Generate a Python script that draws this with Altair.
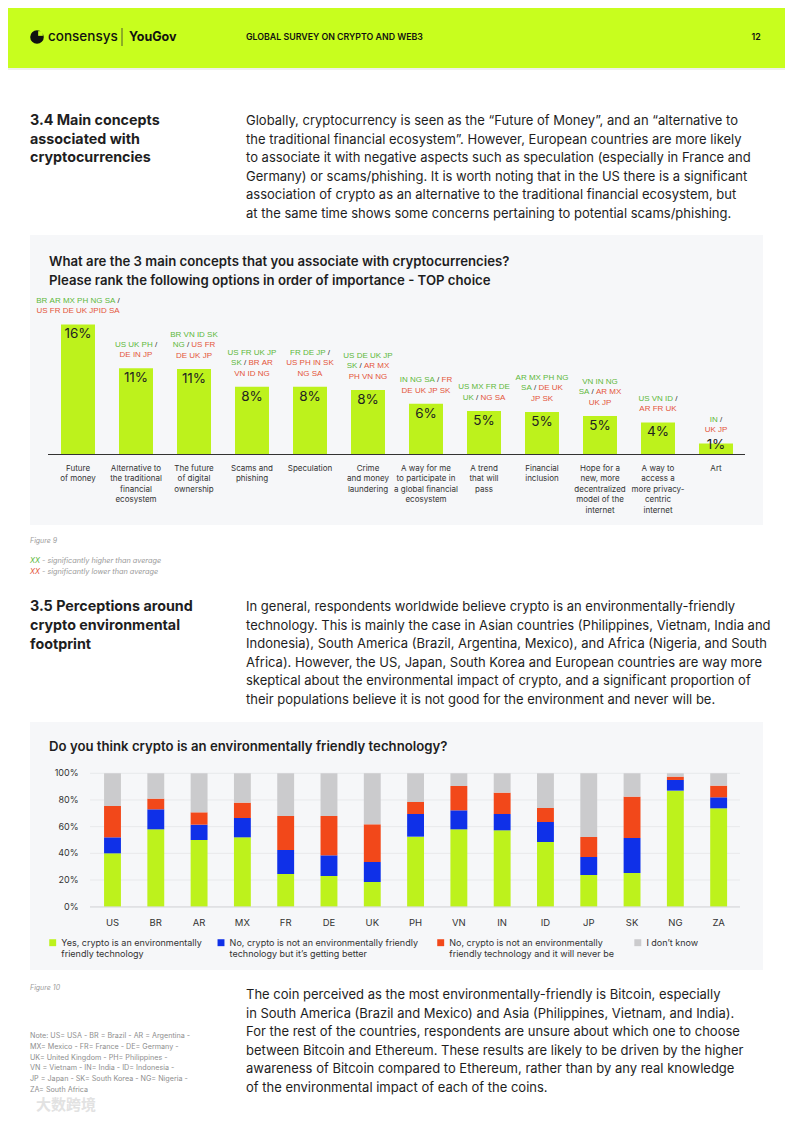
import altair as alt
import pandas as pd

# ---------------- data ----------------
CONCEPTS = [
    "Future|of money",
    "Alternative to|the traditional|financial|ecosystem",
    "The future|of digital|ownership",
    "Scams and|phishing",
    "Speculation",
    "Crime|and money|laundering",
    "A way for me|to participate in|a global financial|ecosystem",
    "A trend|that will|pass",
    "Financial|inclusion",
    "Hope for a|new, more|decentralized|model of the|internet",
    "A way to|access a|more privacy-|centric|internet",
    "Art",
]
CONCEPT_PCT = [16.0, 10.6, 10.5, 8.3, 8.3, 7.9, 6.2, 5.3, 5.2, 4.7, 3.9, 1.3]
CONCEPT_LABELS = ["16%", "11%", "11%", "8%", "8%", "8%", "6%", "5%", "5%", "5%", "4%", "1%"]
# country codes: before "/" significantly higher, after "/" significantly lower
CONCEPT_COUNTRIES = [
    ["BR AR MX PH NG SA /", "US FR DE UK JPID SA"],
    ["US UK PH /", "DE IN JP"],
    ["BR VN ID SK", "NG / US FR", "DE UK JP"],
    ["US FR UK JP", "SK / BR AR", "VN ID NG"],
    ["FR DE JP /", "US PH IN SK", "NG SA"],
    ["US DE UK JP", "SK / AR MX", "PH VN NG"],
    ["IN NG SA / FR", "DE UK JP SK"],
    ["US MX FR DE", "UK / NG SA"],
    ["AR MX PH NG", "SA / DE UK", "JP SK"],
    ["VN IN NG", "SA / AR MX", "UK JP"],
    ["US VN ID /", "AR FR UK"],
    ["IN /", "UK JP"],
]

COUNTRIES = ["US", "BR", "AR", "MX", "FR", "DE", "UK", "PH", "VN", "IN", "ID", "JP", "SK", "NG", "ZA"]
YES = [40, 58, 50, 52, 24.5, 23, 18.5, 52.5, 58, 57.25, 48.5, 23.75, 25.25, 87, 73.75]
NO_BETTER = [12, 15, 11.5, 14.5, 18, 15.5, 15, 17, 14.25, 12.25, 15, 13.5, 26.25, 8, 8.25]
NO_NEVER = [23.5, 8, 9.25, 11.5, 25.5, 29.5, 28.25, 9, 18.25, 16, 10.5, 15, 31, 2.5, 8.75]
DONT_KNOW = [24.5, 19, 29.25, 22, 32, 32, 38.25, 21.5, 9.5, 14.5, 26, 47.75, 17.5, 2.5, 9.25]
RESPONSES = ["Yes", "No, getting better", "No, never", "Don't know"]
RESPONSE_LINES = [
    ["Yes, crypto is an environmentally", "friendly technology"],
    ["No, crypto is not an environmentally friendly", "technology but it\u2019s getting better"],
    ["No, crypto is not an environmentally", "friendly technology and it will never be"],
    ["I don\u2019t know"],
]
TICKS = [0, 20, 40, 60, 80, 100]

# ---------------- styles ----------------
BODY = "Inter"
HEAD_LIME = "#C8FE1E"
BAR_LIME = "#BDF21C"
BLUE = "#0F30E8"
RED = "#F2481A"
GREY = "#CBCBCD"
BOX = "#F6F7F9"
TXT = "#1E1E1E"
HI = "#5DB83A"
LO = "#E4553A"
OFF = 8  # page margin
PARA = 13.0

dummy = pd.DataFrame({"_": [0]})
layers = []


def P(v):
    return v - OFF


def rect(x1, x2, y1, y2, color):
    layers.append(alt.Chart(dummy).mark_rect(color=color).encode(
        x=alt.value(P(x1)), x2=alt.value(P(x2)), y=alt.value(P(y1)), y2=alt.value(P(y2))))


def text(lines, x, y, size=PARA, weight="normal", color=TXT, font=BODY,
         align="left", style="normal", lh=18.6):
    if isinstance(lines, str):
        lines = [lines]
    for i, s in enumerate(lines):
        layers.append(alt.Chart(dummy).mark_text(
            text=s, font=font, fontSize=size, fontWeight=weight, color=color,
            align=align, baseline="middle", fontStyle=style).encode(
            x=alt.value(P(x)), y=alt.value(P(y + i * lh))))


# ---------------- backgrounds ----------------
rect(8, 785, 8, 68, HEAD_LIME)
rect(8, 785, 68, 70, "#EEF0EA")
rect(30, 763, 235, 525, BOX)
rect(30, 763, 722, 970, BOX)

# ---------------- header ----------------
layers.append(alt.Chart(dummy).mark_point(shape="circle", filled=True, color="#111", size=185, opacity=1)
              .encode(x=alt.value(P(37)), y=alt.value(P(37))))
layers.append(alt.Chart(dummy).mark_point(shape="square", filled=True, color=HEAD_LIME, size=22, opacity=1)
              .encode(x=alt.value(P(40.5)), y=alt.value(P(33.5))))
text("consensys", 48, 37, size=13.5, weight=500, color="#111")
layers.append(alt.Chart(dummy).mark_rule(color="#333", strokeWidth=0.8).encode(
    x=alt.value(P(122)), y=alt.value(P(28)), y2=alt.value(P(46))))
text("YouGov", 129, 37, size=12.5, weight="bold", color="#111")
text("GLOBAL SURVEY ON CRYPTO AND WEB3", 246, 37, size=8.8, weight=600, color="#111")
text("12", 756, 37, size=8.8, weight=600, color="#111", align="center")

# ---------------- section 3.4 ----------------
text(["3.4 Main concepts", "associated with", "cryptocurrencies"], 30, 121, size=14.3, weight="bold", lh=18.6)
text([
    "Globally, cryptocurrency is seen as the \u201cFuture of Money\u201d, and an \u201calternative to",
    "the traditional financial ecosystem\u201d. However, European countries are more likely",
    "to associate it with negative aspects such as speculation (especially in France and",
    "Germany) or scams/phishing. It is worth noting that in the US there is a significant",
    "association of crypto as an alternative to the traditional financial ecosystem, but",
    "at the same time shows some concerns pertaining to potential scams/phishing.",
], 246, 121)

text(["What are the 3 main concepts that you associate with cryptocurrencies?",
      "Please rank the following options in order of importance - TOP choice"],
     49, 262, size=13.2, weight=600, lh=18.8)

# ---------------- chart 1 : bars ----------------
X1 = alt.Scale(type="band", domain=CONCEPTS, range=[P(49), P(745)], paddingInner=0.414, paddingOuter=0.207)
Y1 = alt.Scale(domain=[0, 20], range=[P(454), P(454 - 162)], nice=False, zero=True)
STEP1 = 58.0
PXPCT1 = 8.1

df1 = pd.DataFrame({"concept": CONCEPTS, "pct": CONCEPT_PCT, "label": CONCEPT_LABELS})
base1 = alt.Chart(df1)
layers.append(base1.mark_bar(color=BAR_LIME).encode(
    x=alt.X("concept:N", scale=X1, axis=None, sort=None),
    y=alt.Y("pct:Q", scale=Y1, axis=None)))
layers.append(alt.Chart(dummy).mark_rule(color="#333", strokeWidth=1).encode(
    x=alt.value(P(48)), x2=alt.value(P(745)), y=alt.value(P(454.5))))
layers.append(base1.transform_calculate(
    ly=f"max(datum.pct - {10 / PXPCT1}, {9 / PXPCT1})"
).mark_text(font=BODY, fontSize=13.5, color="#222", baseline="middle").encode(
    x=alt.X("concept:N", scale=X1, axis=None, sort=None),
    y=alt.Y("ly:Q", scale=Y1, axis=None),
    text="label:N"))
layers.append(base1.transform_calculate(lines="split(datum.concept, '|')").mark_text(
    font=BODY, fontSize=8, color="#333", baseline="top", lineHeight=10.6, align="center").encode(
    x=alt.X("concept:N", scale=X1, axis=None, sort=None),
    y=alt.value(P(464.5)),
    text="lines:N"))

# annotations (country codes) -- token layout using Arial metrics
AW = {"A": 667, "B": 667, "C": 722, "D": 722, "E": 667, "F": 611, "G": 778, "H": 722, "I": 278,
      "J": 500, "K": 667, "L": 556, "M": 833, "N": 722, "O": 778, "P": 667, "Q": 778, "R": 722,
      "S": 667, "T": 611, "U": 722, "V": 667, "W": 944, "X": 667, "Y": 667, "Z": 611, " ": 278, "/": 278}
ASZ = 8.0


def tw(s):
    return sum(AW.get(c, 600) for c in s) * ASZ / 1000.0


rows = []
for i, lines in enumerate(CONCEPT_COUNTRIES):
    state = "hi"
    n = len(lines)
    for k, line in enumerate(lines):
        toks = line.split()
        total = sum(tw(t) for t in toks) + (len(toks) - 1) * tw(" ")
        cur = -total / 2
        for t in toks:
            if t == "/":
                kind = "sep"
                state = "lo"
            else:
                kind = state
            rows.append({"tok": t, "kind": kind,
                         "pos": i + cur / STEP1,
                         "yv": CONCEPT_PCT[i] + (13 + (n - 1 - k) * 10.6) / PXPCT1})
            cur += tw(t) + tw(" ")
dfa = pd.DataFrame(rows)
layers.append(alt.Chart(dfa).mark_text(font="Liberation Sans", fontSize=ASZ, align="left", baseline="middle").encode(
    x=alt.X("pos:Q", scale=alt.Scale(domain=[-0.5, 11.5], range=[P(49), P(745)], nice=False, zero=False), axis=None),
    y=alt.Y("yv:Q", scale=Y1, axis=None),
    color=alt.Color("kind:N", scale=alt.Scale(domain=["hi", "lo", "sep"], range=[HI, LO, "#333"]), legend=None),
    text="tok:N"))

# figure 9 notes
text("Figure 9", 30, 541, size=7, style="italic", color="#9A9A9A")
text("XX", 30, 561, size=7.3, style="italic", color=HI)
text("- significantly higher than average", 42, 561, size=7.3, style="italic", color="#9A9A9A")
text("XX", 30, 571.5, size=7.3, style="italic", color=LO)
text("- significantly lower than average", 42, 571.5, size=7.3, style="italic", color="#9A9A9A")

# ---------------- section 3.5 ----------------
text(["3.5 Perceptions around", "crypto environmental", "footprint"], 30, 607, size=14.3, weight="bold", lh=18.8)
text([
    "In general, respondents worldwide believe crypto is an environmentally-friendly",
    "technology. This is mainly the case in Asian countries (Philippines, Vietnam, India and",
    "Indonesia), South America (Brazil, Argentina, Mexico), and Africa (Nigeria, and South",
    "Africa). However, the US, Japan, South Korea and European countries are way more",
    "skeptical about the environmental impact of crypto, and a significant proportion of",
    "their populations believe it is not good for the environment and never will be.",
], 246, 607)

text("Do you think crypto is an environmentally friendly technology?", 49, 747, size=13.2, weight=600)

# ---------------- chart 2 : stacked bars ----------------
X2 = alt.Scale(type="band", domain=COUNTRIES, range=[P(90.85), P(740.3)], paddingInner=0.61, paddingOuter=0.305)
Y2 = alt.Scale(domain=[0, 100], range=[P(906.7), P(773.3)], nice=False, zero=True)
C2 = alt.Scale(domain=RESPONSES, range=[BAR_LIME, BLUE, RED, GREY])

dft = pd.DataFrame({"t": TICKS})
layers.append(alt.Chart(dft).mark_rule(color="#E8E9EB", strokeWidth=1).encode(
    y=alt.Y("t:Q", scale=Y2, axis=None), x=alt.value(P(90)), x2=alt.value(P(740))))
layers.append(alt.Chart(dft).transform_calculate(lab="datum.t + '%'").mark_text(
    font=BODY, fontSize=9, color="#333", align="right", baseline="middle").encode(
    y=alt.Y("t:Q", scale=Y2, axis=None), x=alt.value(P(78.5)), text="lab:N"))

long_rows = []
for ci, c in enumerate(COUNTRIES):
    for ri, (r, vals) in enumerate(zip(RESPONSES, [YES, NO_BETTER, NO_NEVER, DONT_KNOW])):
        long_rows.append({"country": c, "resp": r, "ord": ri, "value": vals[ci]})
df2 = pd.DataFrame(long_rows)
layers.append(alt.Chart(df2).mark_bar().encode(
    x=alt.X("country:N", scale=X2, axis=None, sort=None),
    y=alt.Y("value:Q", scale=Y2, axis=None, stack="zero"),
    color=alt.Color("resp:N", scale=C2, legend=None),
    order=alt.Order("ord:Q", sort="ascending")))
layers.append(alt.Chart(dummy).mark_rule(color="#D6D7DA", strokeWidth=1).encode(
    x=alt.value(P(90)), x2=alt.value(P(740)), y=alt.value(P(907))))
layers.append(alt.Chart(pd.DataFrame({"country": COUNTRIES})).mark_text(
    font=BODY, fontSize=9.5, color="#333", baseline="middle").encode(
    x=alt.X("country:N", scale=X2, axis=None, sort=None),
    y=alt.value(P(922.5)), text="country:N"))

# legend
LEG_X = [52.7, 221, 440.7, 637.8]
for r, lx, lines in zip(RESPONSES, LEG_X, RESPONSE_LINES):
    layers.append(alt.Chart(pd.DataFrame({"resp": [r]})).mark_square(size=48, opacity=1).encode(
        x=alt.value(P(lx)), y=alt.value(P(942.7)),
        color=alt.Color("resp:N", scale=C2, legend=None)))
    text(lines, lx + 8.6, 942.7, size=9, color="#333", lh=10.8)

# ---------------- bottom ----------------
text("Figure 10", 30, 988, size=7, style="italic", color="#9A9A9A")
text([
    "The coin perceived as the most environmentally-friendly is Bitcoin, especially",
    "in South America (Brazil and Mexico) and Asia (Philippines, Vietnam, and India).",
    "For the rest of the countries, respondents are unsure about which one to choose",
    "between Bitcoin and Ethereum. These results are likely to be driven by the higher",
    "awareness of Bitcoin compared to Ethereum, rather than by any real knowledge",
    "of the environmental impact of each of the coins.",
], 246, 995)
text([
    "Note: US= USA - BR = Brazil - AR = Argentina -",
    "MX= Mexico - FR= France - DE= Germany -",
    "UK= United Kingdom - PH= Philippines -",
    "VN = Vietnam - IN= India - ID= Indonesia -",
    "JP = Japan - SK= South Korea - NG= Nigeria -",
    "ZA= South Africa",
], 30, 1036, size=7.2, color="#8E8E8E", lh=10.8)
text("\u5927\u6570\u8de8\u5883", 36, 1105, size=15, color="#E2E2E2", font="Noto Sans CJK SC", weight="bold")

chart = alt.layer(*layers).resolve_scale(
    x="independent", y="independent", color="independent"
).properties(
    width=777, height=1106, padding=0, autosize=alt.AutoSizeParams(type="none")
).configure_view(stroke=None)

chart.save("out.html", embed_options={"renderer": "svg", "actions": False})
